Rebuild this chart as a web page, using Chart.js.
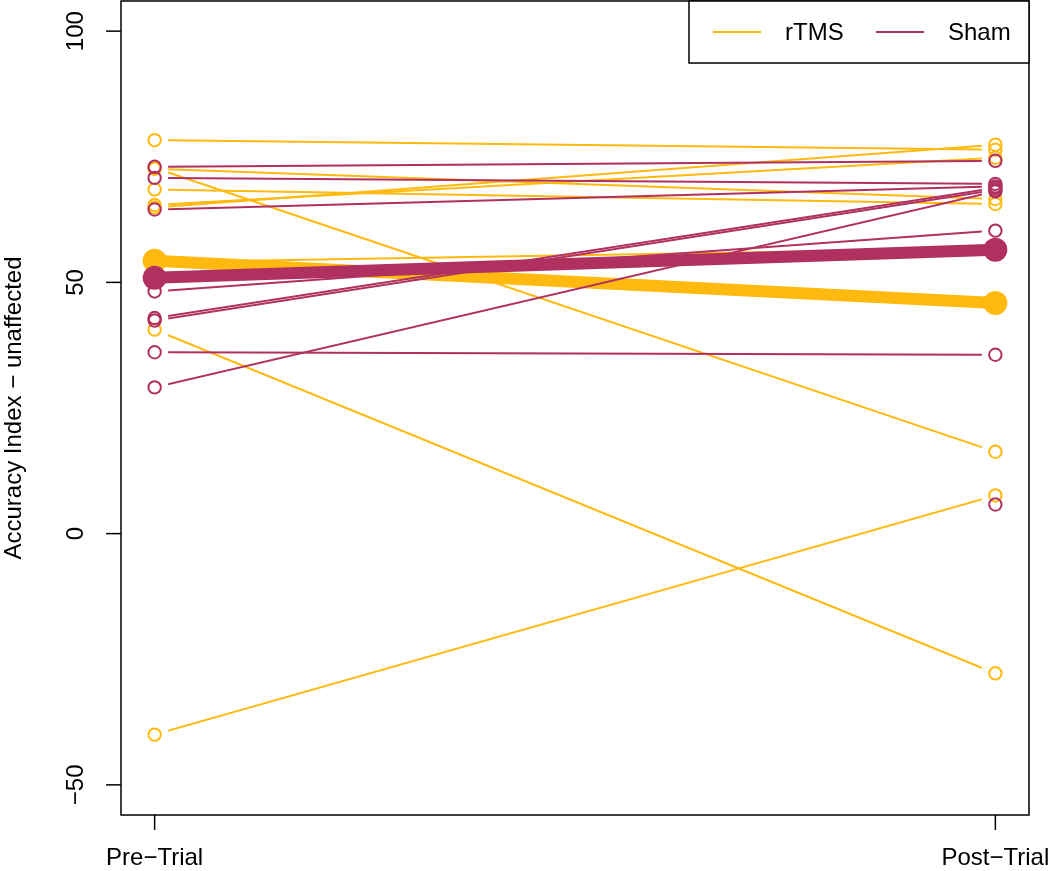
<!DOCTYPE html>
<html>
<head>
<meta charset="utf-8">
<script src="https://cdn.jsdelivr.net/npm/chart.js@4"></script>
<style>
  html, body { margin: 0; padding: 0; background: #fff; }
  #wrap { width: 1050px; height: 871px; }
</style>
</head>
<body>
<div id="wrap"><canvas id="c" width="1050" height="871"></canvas></div>
<script>
// values
const groups = ['rTMS', 'Sham'];
const xLabels = ['Pre\u2212Trial', 'Post\u2212Trial'];
const yTicks = [-50, 0, 50, 100];
const yTitle = 'Accuracy Index \u2212 unaffected';

const rtmsPre  = [78.3, 72.8, 72.6, 68.5, 65.4, 64.9, 54.0, 40.6, -40.0];
const rtmsPost = [76.4, 16.3, 66.6, 65.6, 74.8, 77.4, 56.8, -27.8, 7.6];
const shamPre  = [73.0, 70.8, 64.5, 48.2, 42.9, 42.4, 36.1, 29.1, null];
const shamPost = [74.2, 69.6, 69.1, 60.3, 68.8, 68.4, 35.6, 68.1, 5.8];
const rtmsMean = [54.3, 45.9];
const shamMean = [50.9, 56.5];

const colors = { rTMS: '#FFB90F', Sham: '#B03060' };
const FONT = '"Liberation Sans", Arial, Helvetica, sans-serif';

const datasets = [];
let paint = 0;

function addGroup(name, pre, post, mean) {
  const col = colors[name];
  // individual subject lines (gaps next to the points, like type = "b")
  pre.forEach((v, i) => {
    if (v === null || post[i] === null) return;
    datasets.push({
      type: 'line', data: [{ x: 1, y: v }, { x: 2, y: post[i] }],
      borderColor: col, borderWidth: 2, pointRadius: 0, gap: 13.5,
      order: 1000 - paint++
    });
  });
  // open circles
  const pts = [];
  pre.forEach(v => { if (v !== null) pts.push({ x: 1, y: v }); });
  post.forEach(v => { if (v !== null) pts.push({ x: 2, y: v }); });
  datasets.push({
    type: 'scatter', data: pts, showLine: false,
    pointRadius: 6.2, pointBorderWidth: 2, pointBorderColor: col,
    pointBackgroundColor: 'rgba(0,0,0,0)', order: 1000 - paint++
  });
  // group mean
  datasets.push({
    type: 'line', data: [{ x: 1, y: mean[0] }, { x: 2, y: mean[1] }],
    borderColor: col, borderWidth: 12, pointRadius: 12, pointBorderWidth: 0,
    pointBackgroundColor: col, order: 1000 - paint++
  });
}

addGroup('rTMS', rtmsPre, rtmsPost, rtmsMean);
addGroup('Sham', shamPre, shamPost, shamMean);

const gapPlugin = {
  id: 'gapClip',
  beforeDatasetDraw(chart, args) {
    const ds = chart.data.datasets[args.index];
    if (!ds.gap) return;
    const xs = chart.scales.x;
    const x1 = xs.getPixelForValue(1) + ds.gap;
    const x2 = xs.getPixelForValue(2) - ds.gap;
    const ctx = chart.ctx;
    ctx.save();
    ctx.beginPath();
    ctx.rect(x1, 0, x2 - x1, chart.height);
    ctx.clip();
  },
  afterDatasetDraw(chart, args) {
    const ds = chart.data.datasets[args.index];
    if (ds.gap) chart.ctx.restore();
  }
};

// base-graphics style box, axes and legend
const framePlugin = {
  id: 'frame',
  afterDraw(chart) {
    const ctx = chart.ctx;
    const a = chart.chartArea;
    const xs = chart.scales.x, ys = chart.scales.y;
    ctx.save();
    ctx.strokeStyle = '#000';
    ctx.fillStyle = '#000';
    ctx.lineWidth = 1.5;
    ctx.strokeRect(a.left, a.top, a.right - a.left, a.bottom - a.top);

    ctx.font = '24px ' + FONT;
    // y axis
    yTicks.forEach(v => {
      const y = ys.getPixelForValue(v);
      ctx.beginPath();
      ctx.moveTo(a.left - 15, y);
      ctx.lineTo(a.left, y);
      ctx.stroke();
      ctx.save();
      ctx.translate(a.left - 45, y);
      ctx.rotate(-Math.PI / 2);
      ctx.textAlign = 'center';
      ctx.textBaseline = 'middle';
      ctx.fillText(String(v).replace('-', '\u2212'), 0, 0);
      ctx.restore();
    });
    // x axis
    xLabels.forEach((lab, i) => {
      const x = xs.getPixelForValue(i + 1);
      ctx.beginPath();
      ctx.moveTo(x, a.bottom);
      ctx.lineTo(x, a.bottom + 15);
      ctx.stroke();
      ctx.textAlign = 'center';
      ctx.textBaseline = 'middle';
      ctx.fillText(lab, x, 858);
    });
    // y title
    ctx.save();
    ctx.translate(14, (a.top + a.bottom) / 2);
    ctx.rotate(-Math.PI / 2);
    ctx.textAlign = 'center';
    ctx.textBaseline = 'middle';
    ctx.fillText(yTitle, 0, 0);
    ctx.restore();

    // legend (top right)
    const lx = 689, ly = a.top, lw = a.right - 689, lh = 62;
    ctx.fillStyle = '#fff';
    ctx.fillRect(lx, ly, lw, lh);
    ctx.strokeRect(lx, ly, lw, lh);
    const items = [{ x: 713, tx: 785 }, { x: 876, tx: 948 }];
    groups.forEach((g, i) => {
      const yy = ly + 31;
      ctx.strokeStyle = colors[g];
      ctx.lineWidth = 2;
      ctx.beginPath();
      ctx.moveTo(items[i].x, yy);
      ctx.lineTo(items[i].x + 48, yy);
      ctx.stroke();
      ctx.fillStyle = '#000';
      ctx.textAlign = 'left';
      ctx.textBaseline = 'middle';
      ctx.fillText(g, items[i].tx, yy + 1);
    });
    ctx.restore();
  }
};

new Chart(document.getElementById('c'), {
  type: 'line',
  data: { datasets },
  options: {
    responsive: false,
    animation: false,
    layout: { autoPadding: false, padding: { left: 121, right: 21, top: 1, bottom: 56 } },
    plugins: { legend: { display: false }, tooltip: { enabled: false } },
    scales: {
      x: { type: 'linear', min: 0.96, max: 2.04, display: false },
      y: { type: 'linear', min: -56, max: 106, display: false }
    }
  },
  plugins: [gapPlugin, framePlugin]
});
</script>
</body>
</html>
